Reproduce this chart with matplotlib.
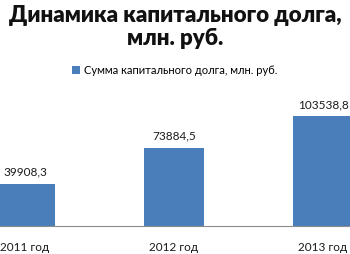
import matplotlib
matplotlib.use('Agg')
import matplotlib.pyplot as plt

years = ['2011 год', '2012 год', '2013 год']
values = [39908.3, 73884.5, 103538.8]
value_labels = ['39908,3', '73884,5', '103538,8']
series_name = 'Сумма капитального долга, млн. руб.'
title = 'Динамика капитального долга,\nмлн. руб.'

plt.rcParams['font.family'] = ['Lato', 'DejaVu Sans']

fig = plt.figure(figsize=(3.5, 2.55), dpi=100)
ax = fig.add_axes([0, 1 - 227 / 255, 1, 137 / 255])

x = list(range(len(years)))
bars = ax.bar(x, values, width=0.403, color='#4a7ebb', label=series_name)

ax.set_xlim(-25 / 149, 325 / 149)
ax.set_ylim(0, 103538.8 * 137 / 110)

for xi, v, lab in zip(x, values, value_labels):
    ax.annotate(lab, (xi, v), xytext=(0, 5), textcoords='offset points',
                ha='center', va='bottom', fontsize=8.5, color='#1a1a1a')

ax.set_xticks(x)
ax.set_xticklabels(years, fontsize=8.5, color='#1a1a1a')
ax.tick_params(axis='x', length=0, pad=11)
ax.set_yticks([])
for s in ['top', 'left', 'right']:
    ax.spines[s].set_visible(False)
ax.spines['bottom'].set_color('#8c8c8c')
ax.spines['bottom'].set_linewidth(0.8)

fig.text(0.5, 1 - 27 / 255, title, ha='center', va='center', fontsize=16,
         fontweight='heavy', linespacing=1.15, color='#111111')

fig.legend(handles=[bars], labels=[series_name], loc='center',
           bbox_to_anchor=(0.5, 1 - 71 / 255), frameon=False, fontsize=8,
           handlelength=0.7, handleheight=0.7, handletextpad=0.4)

fig.savefig('out.png', dpi=100)
